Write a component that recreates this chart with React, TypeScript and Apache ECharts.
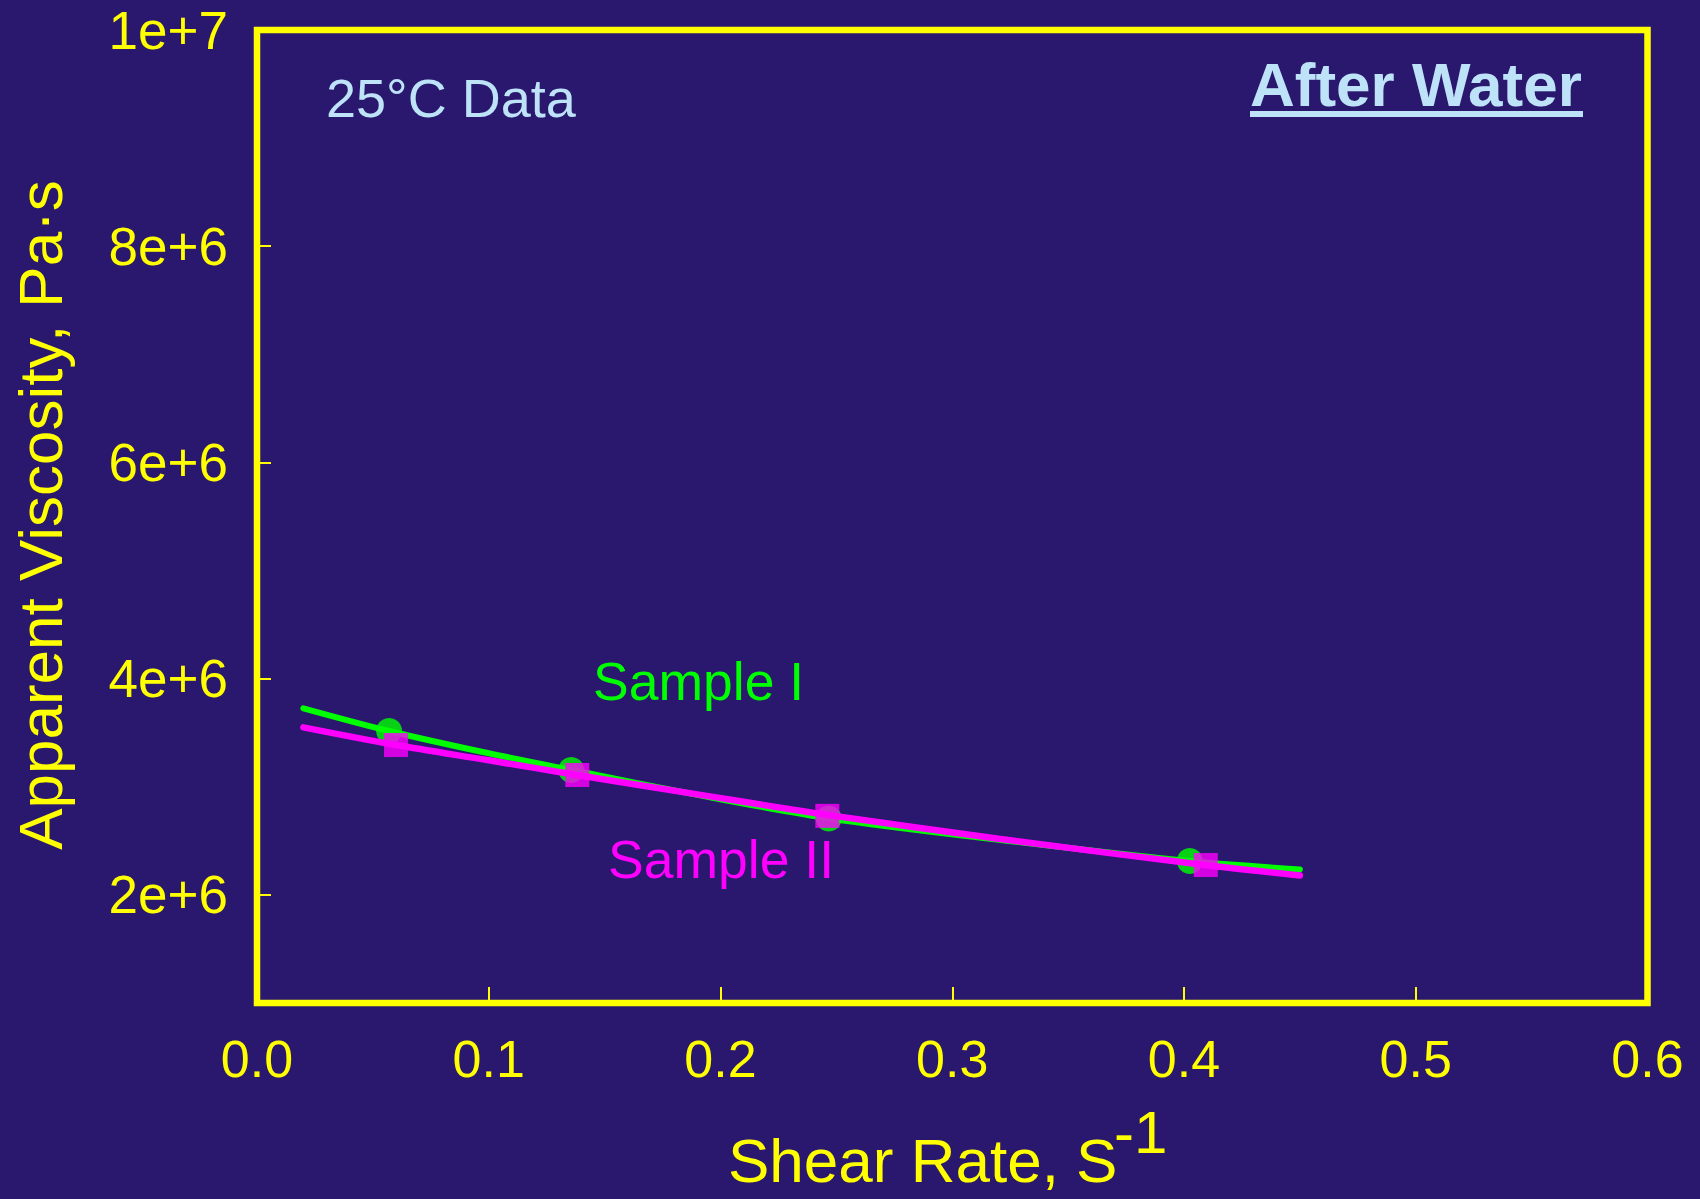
import React, { useEffect, useRef } from "react";
import * as echarts from "echarts";

// ---- data ----
const xTickLabels = ["0.0", "0.1", "0.2", "0.3", "0.4", "0.5", "0.6"];
const yTickValues = [2e6, 4e6, 6e6, 8e6, 1e7];
const yTickLabels = ["2e+6", "4e+6", "6e+6", "8e+6", "1e+7"];

// Sample I measured points (circles)
const s1X = [0.057, 0.1356, 0.2467, 0.4025];
const s1Y = [3.516e6, 3.155e6, 2.707e6, 2.313e6];
// Sample II measured points (squares)
const s2X = [0.06, 0.1382, 0.2461, 0.4094];
const s2Y = [3.386e6, 3.109e6, 2.731e6, 2.276e6];

// fitted curves
const fit1X = [0.02, 0.057, 0.1, 0.136, 0.19, 0.247, 0.32, 0.402, 0.45];
const fit1Y = [3.726e6, 3.516e6, 3.31e6, 3.155e6, 2.925e6, 2.707e6, 2.51e6, 2.313e6, 2.236e6];
const fit2X = [0.02, 0.06, 0.1, 0.138, 0.19, 0.246, 0.32, 0.409, 0.45];
const fit2Y = [3.55e6, 3.386e6, 3.245e6, 3.109e6, 2.93e6, 2.74e6, 2.52e6, 2.276e6, 2.18e6];

const FONT = "'Liberation Sans', Arial, Helvetica, sans-serif";
const YELLOW = "#FFFF00";
const GREEN = "#00FF00";
const MAGENTA = "#FF00FF";
const LIGHT = "#BEE3F8";
const BG = "#29186E";

const zip = (xs: number[], ys: number[]) => xs.map((x, i) => [x, ys[i]]);

export default function App() {
  const ref = useRef<HTMLDivElement>(null);
  useEffect(() => {
    if (!ref.current) return;
    const chart = echarts.init(ref.current, null, { renderer: "svg" });
    chart.setOption({
      animation: false,
      backgroundColor: BG,
      grid: {
        left: 257,
        top: 30,
        right: 52.5,
        bottom: 196,
        show: true,
        borderColor: YELLOW,
        borderWidth: 6.5,
        backgroundColor: "transparent",
      },
      xAxis: {
        type: "value",
        min: 0,
        max: 0.6,
        interval: 0.1,
        axisLine: { show: false },
        splitLine: { show: false },
        axisTick: { show: true, inside: true, length: 16, lineStyle: { color: YELLOW, width: 2 } },
        axisLabel: {
          margin: 30,
          color: YELLOW,
          fontSize: 52,
          fontFamily: FONT,
          formatter: (v: number) => xTickLabels[Math.round(v / 0.1)] ?? "",
        },
      },
      yAxis: {
        type: "value",
        min: 1e6,
        max: 1e7,
        interval: 1e6,
        axisLine: { show: false },
        splitLine: { show: false },
        axisTick: {
          show: true,
          inside: true,
          length: 14,
          customValues: yTickValues,
          lineStyle: { color: YELLOW, width: 2 },
        },
        axisLabel: {
          margin: 29,
          color: YELLOW,
          fontSize: 53,
          fontFamily: FONT,
          customValues: yTickValues,
          formatter: (v: number) => {
            const i = yTickValues.findIndex((t) => Math.abs(t - v) < 1);
            return i >= 0 ? yTickLabels[i] : "";
          },
        },
      },
      series: [
        {
          type: "line",
          data: zip(fit1X, fit1Y),
          smooth: 0.3,
          showSymbol: false,
          lineStyle: { color: GREEN, width: 6, cap: "round" },
          z: 2,
        },
        {
          type: "scatter",
          data: zip(s1X, s1Y),
          symbol: "circle",
          symbolSize: 26,
          itemStyle: { color: GREEN },
          z: 3,
        },
        {
          type: "line",
          data: zip(fit2X, fit2Y),
          smooth: 0.3,
          showSymbol: false,
          lineStyle: { color: MAGENTA, width: 6.5, cap: "round" },
          z: 4,
        },
        {
          type: "scatter",
          data: zip(s2X, s2Y),
          symbol: "rect",
          symbolSize: 24,
          itemStyle: { color: MAGENTA },
          z: 5,
        },
      ],
      graphic: [
        {
          type: "text",
          x: 326,
          y: 98,
          style: { text: "25°C Data", fill: LIGHT, fontSize: 54, fontFamily: FONT, align: "left", verticalAlign: "middle" },
        },
        {
          type: "text",
          x: 1250,
          y: 84.5,
          style: { text: "After Water", fill: LIGHT, fontSize: 62, fontWeight: "bold", fontFamily: FONT, align: "left", verticalAlign: "middle" },
        },
        {
          type: "rect",
          shape: { x: 1250, y: 111, width: 333, height: 6 },
          style: { fill: LIGHT },
        },
        {
          type: "text",
          x: 593,
          y: 681.6,
          style: { text: "Sample I", fill: GREEN, fontSize: 53.5, fontFamily: FONT, align: "left", verticalAlign: "middle" },
        },
        {
          type: "text",
          x: 608,
          y: 859.6,
          style: { text: "Sample II", fill: MAGENTA, fontSize: 53.5, fontFamily: FONT, align: "left", verticalAlign: "middle" },
        },
        {
          type: "text",
          x: 728,
          y: 1160.2,
          style: { text: "Shear Rate, S", fill: YELLOW, fontSize: 62, fontFamily: FONT, align: "left", verticalAlign: "middle" },
        },
        {
          type: "text",
          x: 1114,
          y: 1132,
          style: { text: "-1", fill: YELLOW, fontSize: 60, fontFamily: FONT, align: "left", verticalAlign: "middle" },
        },
        {
          type: "text",
          x: 40,
          y: 515,
          rotation: Math.PI / 2,
          style: { text: "Apparent Viscosity, Pa·s", fill: YELLOW, fontSize: 62, fontFamily: FONT, align: "center", verticalAlign: "middle" },
        },
      ],
    });
    return () => chart.dispose();
  }, []);
  return (
    <div
      ref={ref}
      style={{ position: "absolute", left: 0, top: 0, width: 1700, height: 1199 }}
    />
  );
}
